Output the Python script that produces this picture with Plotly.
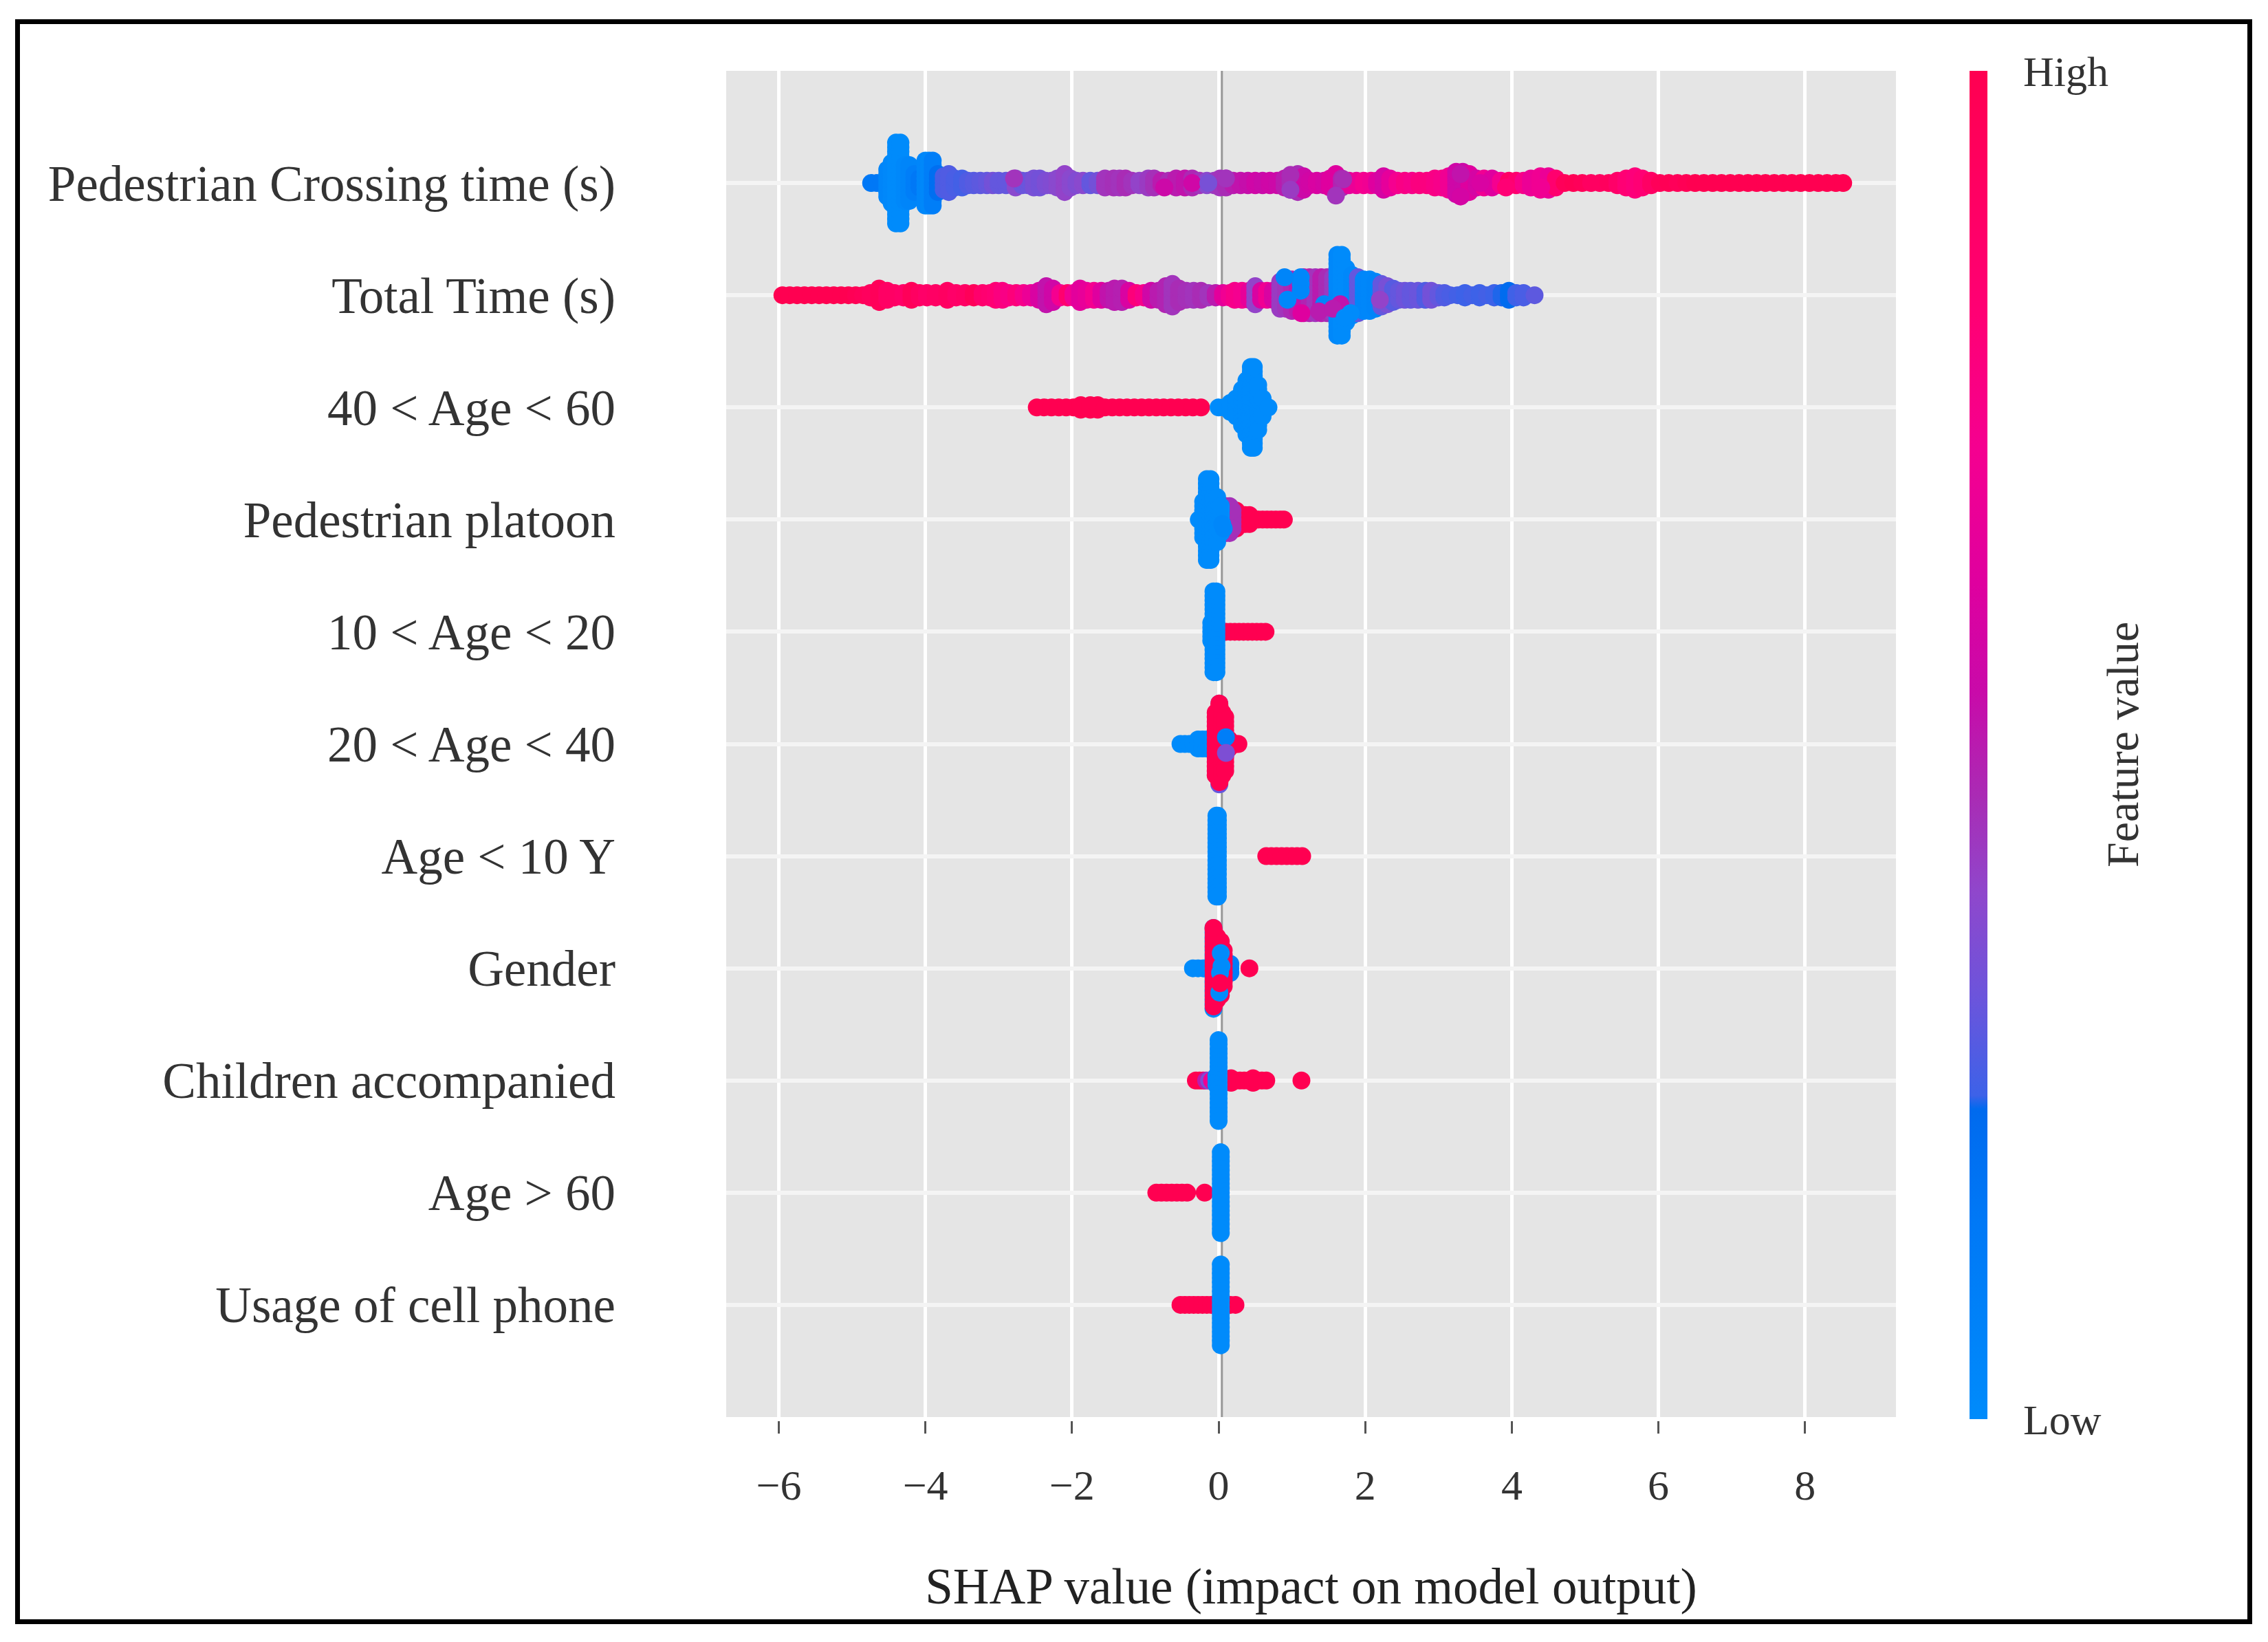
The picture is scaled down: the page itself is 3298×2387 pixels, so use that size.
import plotly.graph_objects as go

# ---------- categories, bottom row first ----------
features = ["Usage of cell phone", "Age > 60", "Children accompanied", "Gender", "Age < 10 Y",
            "20 < Age < 40", "10 < Age < 20", "Pedestrian platoon", "40 < Age < 60",
            "Total Time (s)", "Pedestrian Crossing time (s)"]
x_ticks = [-6, -4, -2, 0, 2, 4, 6, 8]

# Each row: SHAP value, how many samples pile up at that value, feature value (0 low .. 1 high)
crossing_x = [-4.74,-4.66,-4.60,-4.52,-4.46,-4.40,-4.34,-4.28,-4.22,-4.15,
              -4.08,-4.00,-3.95,-3.90,-3.83,-3.75,-3.68,-3.60,-3.50,-3.42,
              -3.34,-3.25,-3.16,-3.08,-3.00,-2.90,-2.77,-2.68,-2.60,-2.52,
              -2.44,-2.36,-2.28,-2.20,-2.10,-2.02,-1.94,-1.85,-1.75,-1.65,
              -1.55,-1.43,-1.35,-1.27,-1.18,-1.08,-.96,-.88,-.78,-.68,
              -.58,-.46,-.36,-.26,-.16,-.06,.02,.10,.20,.30,
              .40,.50,.60,.70,.80,.90,.98,1.08,1.16,1.24,
              1.34,1.44,1.52,1.60,1.68,1.78,1.88,1.98,2.08,2.16,
              2.25,2.34,2.44,2.54,2.64,2.74,2.84,2.95,3.05,3.14,
              3.24,3.33,3.42,3.52,3.62,3.73,3.85,3.96,4.06,4.16,
              4.26,4.39,4.50,4.60,4.72,4.84,4.96,5.08,5.20,5.32,
              5.44,5.56,5.68,5.78,5.90,6.02,6.14,6.26,6.38,6.50,
              6.62,6.74,6.86,6.98,7.10,7.22,7.34,7.46,7.58,7.70,
              7.82,7.94,8.06,8.18,8.30,8.42,8.52]
crossing_n = [1,1,1,7,10,19,19,9,9,5,
              3,11,11,11,5,4,5,3,3,2,
              2,2,2,2,2,2,3,2,2,3,
              3,2,2,3,5,3,2,2,2,2,
              3,3,3,3,2,2,3,3,2,2,
              3,3,3,2,2,2,3,3,2,2,
              2,2,2,2,2,3,4,5,4,2,
              2,2,3,5,3,2,2,2,2,2,
              4,3,2,2,2,2,2,3,3,4,
              6,6,5,3,3,3,2,2,2,2,
              3,4,4,3,1,1,1,1,1,1,
              2,3,4,3,2,1,1,1,1,1,
              1,1,1,1,1,1,1,1,1,1,
              1,1,1,1,1,1,1]
crossing_c = [.15,.15,.15,.05,.02,0,0,.02,.05,.1,
              .15,.04,.02,.1,.2,.26,.27,.26,.25,.27,
              .28,.29,.3,.33,.3,.3,.38,.31,.31,.34,
              .33,.35,.36,.38,.4,.38,.36,.38,.3,.33,
              .44,.45,.44,.46,.44,.4,.42,.45,.5,.46,
              .5,.52,.47,.44,.38,.42,.44,.46,.5,.52,
              .53,.56,.54,.56,.55,.5,.46,.46,.55,.57,
              .6,.58,.62,.62,.48,.65,.68,.72,.7,.62,
              .58,.65,.72,.76,.74,.78,.78,.76,.74,.7,
              .56,.55,.62,.58,.7,.62,.72,.9,.85,.75,
              .68,.7,.68,.85,.96,.98,.96,.92,.92,.94,
              .88,.82,.8,.82,.9,.96,.98,.96,.98,1,
              1,1,1,1,1,1,1,1,1,1,
              1,1,1,1,1,1,1]
# single samples that sit on top of a pile: value, layer in the pile, feature value
crossing_top_x = [-2.79,-.74,-.36,-.14,.10,.98,.98,1.70,1.60,3.30,3.30,3.57,3.92,4.40]
crossing_top_l = [1,-1,0,0,1,1.8,-1.5,.8,-2.8,2,-3,0,-1,-1]
crossing_top_c = [.44,.55,.56,.34,.44,.46,.42,.46,.44,.52,.58,.6,.82,.7]

total_x = [-5.95,-5.85,-5.75,-5.65,-5.55,-5.45,-5.35,-5.25,-5.15,-5.05,
           -4.95,-4.85,-4.75,-4.63,-4.52,-4.42,-4.30,-4.19,-4.08,-3.98,
           -3.86,-3.70,-3.58,-3.46,-3.34,-3.22,-3.12,-3.04,-2.95,-2.86,
           -2.76,-2.66,-2.56,-2.45,-2.35,-2.26,-2.16,-2.06,-1.98,-1.89,
           -1.80,-1.70,-1.60,-1.50,-1.42,-1.32,-1.22,-1.12,-1.02,-.92,
           -.82,-.72,-.63,-.54,-.44,-.34,-.24,-.14,-.04,.06,
           .15,.22,.32,.42,.50,.58,.66,.74,
           .84,.92,1.00,1.08,1.16,1.24,1.32,1.40,1.48,1.56,
           1.62,1.68,1.74,1.82,1.90,1.98,2.06,2.14,2.22,2.30,
           2.38,2.46,2.54,2.62,2.72,2.82,2.90,3.00,3.08,3.16,
           3.26,3.36,3.46,3.56,3.66,3.76,3.86,3.96,4.06,4.16,4.31]
total_n = [1,1,1,1,1,1,1,1,1,1,
           1,1,2,4,3,2,2,3,2,2,
           2,3,2,2,2,2,2,3,3,2,
           2,2,2,3,5,4,2,2,2,4,
           3,3,3,3,4,4,3,2,2,3,
           3,5,6,4,3,3,3,2,2,2,
           2,3,3,3,5,3,3,3,
           7,7,8,8,9,9,9,9,9,9,
           19,19,13,10,9,8,8,7,6,5,
           4,3,3,3,3,3,3,2,2,1,
           1,2,1,2,1,2,2,3,2,2,1]
total_c = [1,1,1,1,1,1,1,1,1,1,
           .98,.96,.94,.96,.9,.9,.88,.96,.92,.88,
           .9,.92,.88,.9,.96,.86,.84,.82,.78,.76,
           .8,.74,.68,.6,.52,.56,.72,.85,.7,.64,
           .66,.72,.62,.52,.5,.49,.6,.8,.74,.56,
           .5,.48,.44,.46,.45,.44,.46,.44,.5,.64,
           .7,.74,.72,.66,.4,.6,.7,.6,
           .42,.44,.47,.5,.52,.48,.44,.5,.46,.42,
           .02,0,0,.02,.3,.04,.03,.05,.3,.34,
           .28,.3,.32,.3,.31,.27,.33,.3,.27,.26,
           .25,.24,.25,.24,.25,.24,.235,.22,.245,.26,.29]
total_top_x = [1.12,1.12,1.12,.90,.94,1.44,1.13,1.37,1.66,1.56,1.80,1.72,2.20]
total_top_l = [1,2.5,4,4,-1,-2,-4,-3.6,-2,-3,-4,-5,-1]
total_top_c = [.03,.03,.03,.05,.02,.03,.62,.5,.52,.5,0,0,.4]

age40_x = [-2.48,-2.38,-2.28,-2.18,-2.08,-1.98,-1.88,-1.75,-1.65,-1.55,-1.45,-1.35,-1.25,-1.15,-1.05,-.95,-.85,-.75,-.65,-.55,-.45,-.35,-.24,
           0,.08,.16,.24,.32,.38,.44,.48,.54,.60,.68]
age40_n = [1,1,1,1,1,1,2,2,2,1,1,1,1,1,1,1,1,1,1,1,1,1,1,
           1,1,3,5,9,13,19,19,11,5,1]
age40_c = [1,1,1,1,1,1,1,1,1,1,1,1,1,1,1,1,1,1,1,1,1,1,1,
           0,0,0,0,0,0,0,0,0,0,0]

platoon_x = [.18,.24,.30,.36,.42,.48,.54,.60,.66,.72,.78,.84,.89,
             .05,.10,.15,.19,
             -.27,-.21,-.16,-.11,-.07,-.02,.03]
platoon_n = [5,5,3,3,3,1,1,1,1,1,1,1,1,
             7,7,7,5,
             1,9,19,19,11,11,7]
platoon_c = [1,1,1,1,1,1,1,1,1,1,1,1,1,
             .45,.45,.45,.45,
             0,0,0,0,0,0,0]
platoon_top_x = [.07,.05]
platoon_top_l = [-2,-1]
platoon_top_c = [.03,.03]

age10_x = [.10,.16,.22,.28,.34,.40,.46,.52,.58,.64,-.10,-.07,-.03]
age10_n = [1,1,1,1,1,1,1,1,1,1,5,19,19]
age10_c = [1,1,1,1,1,1,1,1,1,1,0,0,0]

age20_x = [-.52,-.46,-.40,-.34,-.28,-.22,-.16,-.10,.01,.012,-.04,.05,.09,.14,.19,.24,.27]
age20_n = [1,1,1,1,3,3,3,3,19,18,15,15,13,3,1,1,1]
age20_c = [0,0,0,0,0,0,0,0,.3,1,1,1,1,1,1,1,1]
age20_top_x = [.01,.10,.10]
age20_top_l = [9,1.5,-2]
age20_top_c = [1,.1,.35]

under10_x = [-.03,-.01,.65,.72,.79,.86,.93,1.00,1.07,1.14]
under10_n = [19,19,1,1,1,1,1,1,1,1]
under10_c = [0,0,1,1,1,1,1,1,1,1]

gender_x = [-.35,-.28,-.21,-.18,.12,.16,-.07,-.068,-.02,.03,.07,.42]
gender_n = [1,1,1,1,3,3,19,18,15,13,9,1]
gender_c = [0,0,0,0,.1,.1,0,1,1,1,1,1]
gender_top_x = [-.07,.03,.04,.02,.01,.02]
gender_top_l = [9,3.4,.5,-1,-5.4,-3.3]
gender_top_c = [1,0,0,0,0,1]

children_x = [-.31,-.26,-.21,-.17,-.13,-.09,.05,.11,.17,.23,.29,.35,.41,.47,.53,.59,.65,1.13,-.03,0]
children_n = [1,1,1,1,1,1,1,1,2,1,1,1,1,2,1,1,1,1,3,19]
children_c = [1,1,1,.5,.35,.7,1,1,1,1,1,1,1,1,1,1,1,1,0,0]

over60_x = [-.85,-.78,-.71,-.64,-.57,-.50,-.43,-.19,.03]
over60_n = [1,1,1,1,1,1,1,1,19]
over60_c = [1,1,1,1,1,1,1,1,0]

phone_x = [-.52,-.46,-.40,-.34,-.28,-.22,-.16,-.10,-.04,.10,.16,.23,.03]
phone_n = [1,1,1,1,1,1,1,1,1,1,1,1,19]
phone_c = [1,1,1,1,1,1,1,1,1,1,1,1,0]

# ---------- look ----------
W, H = 3298, 2387
PLOT_L, PLOT_R, PLOT_T, PLOT_B, AXIS_Y = 1056, 2757, 103, 2060, 2065
LAYER = 0.04          # row units between stacked samples
DOT = 26
SERIF = "Liberation Serif"
INK = "#333333"
ZERO_LINE_X = 0.045

red_blue = [[0, "#008bfb"], [.15, "#0078f6"], [.23, "#006aee"], [.24, "#3d62e8"], [.31, "#6a55dc"],
            [.39, "#8f47cc"], [.46, "#a92cb5"], [.54, "#c90aa9"], [.62, "#df009f"], [.72, "#f50090"],
            [.82, "#ff0074"], [1, "#ff0051"]]


def swarm(row, xs, ns, cs, top_x=(), top_l=(), top_c=()):
    """Pile each group of samples symmetrically around the row centre, centre first."""
    assert len(xs) == len(ns) == len(cs)
    assert len(top_x) == len(top_l) == len(top_c)
    px, py, pc = [], [], []
    for x, n, c in zip(xs, ns, cs):
        layers = sorted((k - (n - 1) / 2 for k in range(n)), key=abs)
        for layer in layers:
            px.append(x); py.append(row + layer * LAYER); pc.append(c)
    for x, l, c in zip(top_x, top_l, top_c):
        px.append(x); py.append(row + l * LAYER); pc.append(c)
    return go.Scatter(x=px, y=py, mode="markers", showlegend=False, hoverinfo="skip",
                      marker=dict(size=DOT, color=pc, coloraxis="coloraxis", line_width=0))


rows = [
    swarm(0, phone_x, phone_n, phone_c),
    swarm(1, over60_x, over60_n, over60_c),
    swarm(2, children_x, children_n, children_c),
    swarm(3, gender_x, gender_n, gender_c, gender_top_x, gender_top_l, gender_top_c),
    swarm(4, under10_x, under10_n, under10_c),
    swarm(5, age20_x, age20_n, age20_c, age20_top_x, age20_top_l, age20_top_c),
    swarm(6, age10_x, age10_n, age10_c),
    swarm(7, platoon_x, platoon_n, platoon_c, platoon_top_x, platoon_top_l, platoon_top_c),
    swarm(8, age40_x, age40_n, age40_c),
    swarm(9, total_x, total_n, total_c, total_top_x, total_top_l, total_top_c),
    swarm(10, crossing_x, crossing_n, crossing_c, crossing_top_x, crossing_top_l, crossing_top_c),
]

fig = go.Figure(rows)

pw, ph = PLOT_R - PLOT_L, AXIS_Y - PLOT_T
paper_x = lambda v: (v - PLOT_L) / pw
paper_y = lambda v: (AXIS_Y - v) / ph

fig.update_layout(
    width=W, height=H, autosize=False,
    margin=dict(l=PLOT_L, r=W - PLOT_R, t=PLOT_T, b=H - AXIS_Y, pad=0),
    paper_bgcolor="white", plot_bgcolor="#e5e5e5",
    font=dict(family=SERIF, color=INK, size=62),
    xaxis=dict(range=[-6.717, 9.24], tickvals=x_ticks, showgrid=True, gridcolor="white", gridwidth=5,
               zeroline=False, ticks="outside", ticklen=18, tickwidth=3, tickcolor="#555555",
               anchor="free", position=0, showline=False, tickfont=dict(size=62, color=INK),
               ticklabelstandoff=22,
               title=dict(text="SHAP value (impact on model output)", standoff=87,
                          font=dict(size=73, color="#222222"))),
    yaxis=dict(range=[-1, 11], domain=[paper_y(PLOT_B), 1], tickvals=list(range(len(features))), ticktext=features,
               showgrid=True, gridcolor="#f4f4f4", gridwidth=6, zeroline=False, ticks="", showline=False,
               ticklabelstandoff=160, tickfont=dict(size=73, color=INK)),
    coloraxis=dict(cmin=0, cmax=1, colorscale=red_blue,
                   colorbar=dict(x=paper_x(2864), xanchor="left", xpad=0, y=paper_y(1083), yanchor="middle", ypad=0,
                                 lenmode="pixels", len=1960, thickness=26, outlinewidth=0,
                                 tickvals=[0, 1], ticktext=["Low", "High"], ticks="outside", ticklen=40,
                                 tickcolor="rgba(0,0,0,0)", tickfont=dict(size=62, color=INK))),
    annotations=[dict(text="Feature value", textangle=-90, xref="paper", yref="paper",
                      x=paper_x(3086), y=paper_y(1083), xanchor="center", yanchor="middle", showarrow=False,
                      font=dict(size=66, color=INK, family=SERIF))],
    shapes=[
        dict(type="line", xref="x", yref="paper", x0=ZERO_LINE_X, x1=ZERO_LINE_X,
             y0=paper_y(PLOT_B), y1=1, layer="below", line=dict(color="#999999", width=3)),
        dict(type="rect", xref="paper", yref="paper", x0=paper_x(25.5), x1=paper_x(3271.5),
             y0=paper_y(2357.5), y1=paper_y(31.5), line=dict(color="black", width=7), fillcolor="rgba(0,0,0,0)"),
    ],
)

fig.write_html("out.html", config={"displayModeBar": False},
               post_script="document.body.style.margin='0';")
